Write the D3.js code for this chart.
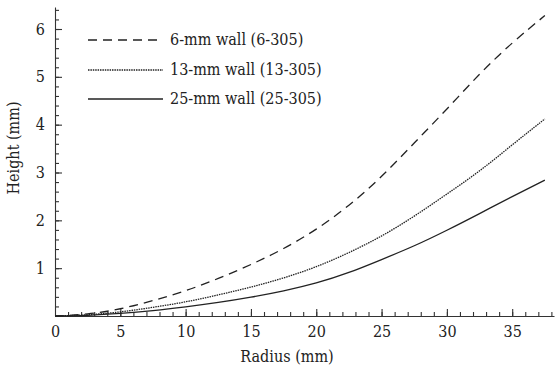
<!DOCTYPE html>
<html>
<head>
<meta charset="utf-8">
<script src="https://cdn.jsdelivr.net/npm/d3@7"></script>
<style>
  body { margin: 0; background: #fff; }
</style>
</head>
<body>
<div id="chart_container"></div>
<script>
// radius (mm) where heights were read
const radius = [0, 2.5, 5, 7.5, 10, 12.5, 15, 17.5, 20, 22.5, 25, 27.5, 30, 32.5, 35, 37.5];
// height (mm) per wall thickness
const wall6 = [0, 0.03, 0.14, 0.32, 0.52, 0.78, 1.07, 1.40, 1.80, 2.30, 2.90, 3.62, 4.32, 5.07, 5.72, 6.28];
const wall13 = [0, 0.02, 0.08, 0.18, 0.29, 0.44, 0.60, 0.79, 1.02, 1.32, 1.66, 2.08, 2.55, 3.02, 3.58, 4.12];
const wall25 = [0, 0.01, 0.05, 0.11, 0.19, 0.28, 0.39, 0.52, 0.68, 0.90, 1.18, 1.46, 1.79, 2.14, 2.50, 2.84];
const seriesNames = ["6-mm wall (6-305)", "13-mm wall (13-305)", "25-mm wall (25-305)"];
const xTicks = [0, 5, 10, 15, 20, 25, 30, 35];
const yTicks = [1, 2, 3, 4, 5, 6];

const serif = "'DejaVu Serif Condensed', 'DejaVu Serif', serif";

const margin = { top: 7, right: 1, bottom: 55, left: 55 },
    width = 555 - margin.left - margin.right,
    height = 371 - margin.top - margin.bottom;

const svg = d3.select("#chart_container")
    .append("svg")
    .attr("width", 555)
    .attr("height", 371)
    .append("g")
    .attr("transform", `translate(${margin.left}, ${margin.top})`);

const x = d3.scaleLinear().domain([0, 38.2]).range([0, width]);
const y = d3.scaleLinear().domain([0, 6.46]).range([height, 0]);

// minor ticks
svg.append("g")
    .attr("transform", `translate(0, ${height})`)
    .call(d3.axisTop(x).tickValues(d3.range(1, 39)).tickSize(4).tickFormat(""))
    .call(g => g.select(".domain").remove());
svg.append("g")
    .call(d3.axisRight(y).tickValues(d3.range(0.2, 6.45, 0.2)).tickSize(4).tickFormat(""))
    .call(g => g.select(".domain").remove());

// major ticks (inward) and labels
const xAxis = svg.append("g")
    .attr("transform", `translate(0, ${height})`)
    .call(d3.axisBottom(x).tickValues(xTicks).tickSize(0).tickPadding(9).tickFormat(d3.format("d")));
xAxis.selectAll("text").attr("dy", "0.75em");
svg.append("g")
    .attr("transform", `translate(0, ${height})`)
    .call(d3.axisTop(x).tickValues(xTicks.slice(1)).tickSize(7).tickFormat(""))
    .call(g => g.select(".domain").remove());

const yAxis = svg.append("g")
    .call(d3.axisLeft(y).tickValues(yTicks).tickSize(0).tickPadding(10).tickFormat(d3.format("d")));
svg.append("g")
    .call(d3.axisRight(y).tickValues(yTicks).tickSize(7).tickFormat(""))
    .call(g => g.select(".domain").remove());

svg.selectAll(".domain, .tick line").attr("stroke", "#333").attr("stroke-width", 1.1);
svg.selectAll("g").attr("font-family", serif);
svg.selectAll(".tick text")
    .attr("font-family", serif)
    .attr("font-size", 16)
    .attr("fill", "#222");

// curves
const styles = [
    { dash: "9,6", width: 1.3 },
    { dash: "1.5,0.9", width: 1.3 },
    { dash: null, width: 1.3 }
];
const series = [wall6, wall13, wall25];

const line = d3.line()
    .x(d => x(d[0]))
    .y(d => y(d[1]))
    .curve(d3.curveBasis);

series.forEach(function (vals, i) {
    svg.append("path")
        .datum(radius.map((r, j) => [r, vals[j]]))
        .attr("fill", "none")
        .attr("stroke", "#222")
        .attr("stroke-width", styles[i].width)
        .attr("stroke-dasharray", styles[i].dash)
        .attr("d", line);
});

// legend
const legendY = [33, 63, 92];
series.forEach(function (vals, i) {
    svg.append("line")
        .attr("x1", 33).attr("x2", 108)
        .attr("y1", legendY[i]).attr("y2", legendY[i])
        .attr("stroke", "#222")
        .attr("stroke-width", styles[i].width)
        .attr("stroke-dasharray", styles[i].dash);
    svg.append("text")
        .attr("x", 115)
        .attr("y", legendY[i])
        .attr("dy", "0.34em")
        .attr("fill", "#222")
        .attr("font-family", serif)
        .attr("font-size", 16)
        .text(seriesNames[i]);
});

// axis titles
svg.append("text")
    .attr("x", 232)
    .attr("y", height + 46)
    .attr("text-anchor", "middle")
    .attr("fill", "#222")
    .attr("font-family", serif)
    .attr("font-size", 16)
    .text("Radius (mm)");

svg.append("text")
    .attr("transform", `translate(-36, 141) rotate(-90)`)
    .attr("text-anchor", "middle")
    .attr("fill", "#222")
    .attr("font-family", serif)
    .attr("font-size", 16)
    .text("Height (mm)");
</script>
</body>
</html>
